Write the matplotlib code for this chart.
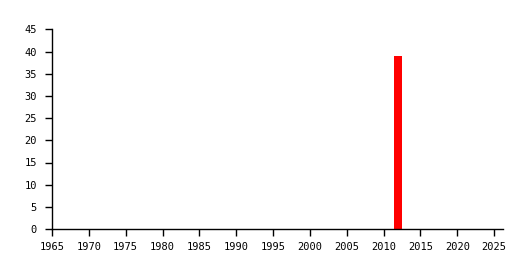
import matplotlib
matplotlib.use("Agg")
import matplotlib.pyplot as plt

years = [2012]
values = [39]
xticks = list(range(1965, 2030, 5))
yticks = list(range(0, 50, 5))

fig = plt.figure(figsize=(5.3, 2.7), dpi=100)
ax = fig.add_axes([52/530, 41/270, 451/530, 199.5/270])
ax.bar(years, values, width=1.1, color="#ff0000", align="center")
ax.set_xlim(1965, 2026.2)
ax.set_ylim(0, 45)
ax.set_xticks(xticks)
ax.set_yticks(yticks)
for s in ["top", "right"]:
    ax.spines[s].set_visible(False)
for s in ["left", "bottom"]:
    ax.spines[s].set_linewidth(1)
ax.tick_params(length=5, width=1, labelsize=7.5)
ax.tick_params(axis="x", pad=4.5)
ax.tick_params(axis="y", pad=6)
for lab in ax.get_xticklabels() + ax.get_yticklabels():
    lab.set_family("DejaVu Sans Mono")
fig.savefig("out.png", dpi=100)
